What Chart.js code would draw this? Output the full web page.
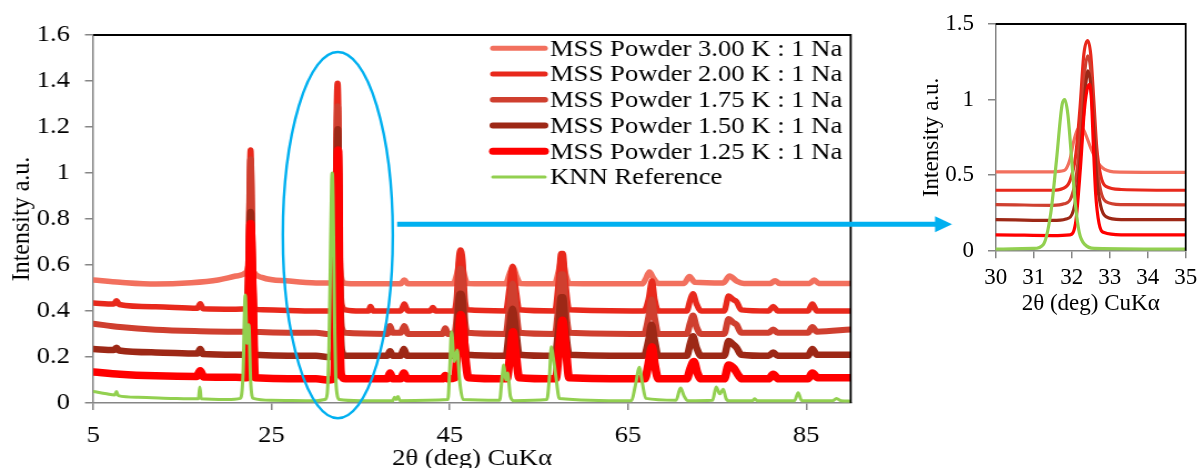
<!DOCTYPE html>
<html><head><meta charset="utf-8">
<script src="https://cdn.jsdelivr.net/npm/chart.js@4.4.1/dist/chart.umd.min.js"></script>
<style>
html,body{margin:0;padding:0;background:#fff;overflow:hidden;width:1198px;height:468px;}
#mainWrap{position:absolute;left:0;top:0;width:1079px;height:468px;transform:scaleX(1.11);transform-origin:0 0;}
#inset{position:absolute;left:900px;top:0;}
</style></head><body>
<div id="mainWrap"><canvas id="main" width="1079" height="468"></canvas></div>
<canvas id="inset" width="298" height="330"></canvas>
<script>
// ---------------- DATA ----------------
const seriesLabels = ['MSS Powder 3.00 K : 1 Na','MSS Powder 2.00 K : 1 Na','MSS Powder 1.75 K : 1 Na','MSS Powder 1.50 K : 1 Na','MSS Powder 1.25 K : 1 Na','KNN Reference'];

const s300 = [[5,0.535],[8,0.525],[12,0.517],[16,0.523],[19,0.535],[21,0.552],[22.2,0.57],[22.6,0.62],[23.0,0.57],[24,0.545],[27,0.53],[30,0.522],[31.5,0.522],[31.8,0.53],[31.95,0.6],[32.05,0.72],[32.15,0.8],[32.25,0.82],[32.35,0.78],[32.5,0.68],[32.65,0.6],[32.8,0.55],[33.1,0.522],[35,0.518],[39.5,0.518],[39.9,0.535],[40.3,0.518],[45.4,0.518],[45.8,0.56],[46.2,0.63],[46.6,0.56],[47.0,0.52],[51.3,0.518],[51.7,0.56],[52.1,0.59],[52.5,0.55],[52.9,0.52],[56.8,0.518],[57.2,0.57],[57.6,0.63],[58.0,0.56],[58.4,0.52],[66.6,0.518],[67.0,0.54],[67.4,0.57],[67.9,0.54],[68.4,0.52],[71.3,0.52],[71.9,0.55],[72.5,0.525],[75.7,0.522],[76.4,0.552],[77.2,0.53],[78,0.52],[81,0.52],[81.5,0.532],[82,0.52],[85.4,0.52],[85.9,0.535],[86.4,0.52],[90,0.52]];

const s200 = [[5,0.435],[7.3,0.43],[7.6,0.445],[7.9,0.428],[12,0.418],[16.7,0.412],[17.0,0.432],[17.3,0.41],[21,0.408],[22.2,0.41],[22.45,0.7],[22.65,1.10],[22.85,0.7],[23.1,0.41],[24,0.405],[30,0.40],[31.5,0.40],[31.75,0.41],[31.95,0.46],[32.1,0.62],[32.22,0.95],[32.32,1.3],[32.42,1.39],[32.5,1.3],[32.58,1.0],[32.66,0.68],[32.76,0.5],[32.9,0.425],[33.3,0.405],[35,0.40],[35.9,0.40],[36.1,0.42],[36.4,0.40],[39.5,0.40],[39.9,0.43],[40.3,0.40],[42.8,0.40],[43.1,0.415],[43.4,0.40],[45.5,0.40],[45.8,0.47],[46.0,0.62],[46.2,0.665],[46.45,0.62],[46.7,0.45],[47.0,0.405],[51.3,0.40],[51.7,0.50],[52.05,0.595],[52.4,0.50],[52.8,0.405],[56.8,0.40],[57.2,0.52],[57.5,0.65],[57.7,0.65],[58.0,0.52],[58.4,0.405],[66.8,0.40],[67.3,0.45],[67.7,0.53],[68.0,0.45],[68.4,0.40],[71.6,0.40],[72.0,0.45],[72.3,0.475],[72.7,0.43],[73.2,0.40],[75.8,0.40],[76.3,0.465],[76.8,0.45],[77.2,0.44],[77.7,0.405],[80.8,0.40],[81.3,0.42],[81.8,0.40],[85.2,0.40],[85.7,0.43],[86.2,0.40],[90,0.40]];

const s175 = [[5,0.345],[8,0.33],[12,0.318],[17,0.312],[21,0.31],[22.2,0.31],[22.45,0.65],[22.65,1.06],[22.85,0.65],[23.1,0.31],[30,0.305],[31.5,0.30],[31.8,0.31],[32.0,0.36],[32.15,0.55],[32.26,0.9],[32.35,1.2],[32.42,1.29],[32.5,1.2],[32.58,0.9],[32.66,0.58],[32.76,0.4],[32.9,0.325],[33.3,0.305],[38.0,0.30],[38.3,0.335],[38.6,0.305],[39.5,0.305],[39.9,0.335],[40.3,0.30],[44.2,0.30],[44.5,0.325],[44.8,0.30],[45.5,0.30],[45.8,0.38],[46.0,0.54],[46.2,0.585],[46.45,0.54],[46.7,0.36],[47.0,0.305],[51.3,0.30],[51.7,0.42],[52.05,0.52],[52.4,0.42],[52.8,0.305],[56.8,0.30],[57.2,0.42],[57.5,0.56],[57.7,0.56],[58.0,0.42],[58.4,0.305],[66.8,0.30],[67.3,0.37],[67.65,0.45],[68.0,0.37],[68.4,0.30],[71.6,0.30],[72.0,0.35],[72.3,0.38],[72.7,0.33],[73.2,0.30],[75.8,0.30],[76.3,0.365],[76.8,0.35],[77.2,0.34],[77.7,0.305],[80.8,0.305],[81.3,0.32],[81.8,0.305],[85.2,0.305],[85.7,0.33],[86.2,0.31],[90,0.32]];

const s150 = [[5,0.235],[7.3,0.23],[7.6,0.24],[7.9,0.228],[12,0.22],[16.7,0.215],[17.0,0.235],[17.3,0.213],[21,0.21],[22.2,0.21],[22.45,0.5],[22.65,0.83],[22.85,0.5],[23.1,0.21],[30,0.205],[31.5,0.20],[31.85,0.21],[32.05,0.27],[32.18,0.48],[32.29,0.82],[32.37,1.1],[32.43,1.19],[32.5,1.1],[32.58,0.8],[32.66,0.48],[32.76,0.3],[32.9,0.225],[33.3,0.205],[38.0,0.205],[38.3,0.225],[38.6,0.205],[39.5,0.205],[39.85,0.235],[40.2,0.205],[45.5,0.205],[45.8,0.28],[46.0,0.44],[46.2,0.475],[46.45,0.44],[46.7,0.26],[47.0,0.21],[51.3,0.205],[51.7,0.32],[52.05,0.41],[52.4,0.32],[52.8,0.21],[56.8,0.205],[57.2,0.32],[57.5,0.46],[57.7,0.46],[58.0,0.32],[58.4,0.21],[66.8,0.205],[67.3,0.27],[67.65,0.34],[68.0,0.27],[68.4,0.205],[71.6,0.205],[72.0,0.26],[72.3,0.29],[72.7,0.24],[73.2,0.205],[75.8,0.205],[76.3,0.27],[76.8,0.255],[77.2,0.24],[77.7,0.21],[80.8,0.205],[81.3,0.22],[81.8,0.205],[85.2,0.205],[85.7,0.235],[86.2,0.21],[90,0.21]];

const s125 = [[5,0.135],[8,0.125],[12,0.118],[16.6,0.115],[17.0,0.14],[17.4,0.113],[21,0.112],[22.2,0.11],[22.45,0.45],[22.65,0.78],[22.9,0.45],[23.15,0.11],[30,0.105],[31.5,0.10],[31.95,0.105],[32.1,0.18],[32.23,0.55],[32.33,0.92],[32.4,1.06],[32.47,1.10],[32.52,1.0],[32.57,0.7],[32.63,0.38],[32.72,0.18],[32.85,0.12],[33.3,0.105],[38.0,0.105],[38.3,0.13],[38.6,0.105],[39.5,0.105],[39.85,0.13],[40.2,0.105],[44.2,0.105],[44.5,0.12],[44.8,0.105],[45.6,0.11],[45.9,0.25],[46.25,0.385],[46.5,0.33],[46.8,0.18],[47.1,0.11],[51.4,0.105],[51.8,0.22],[52.1,0.31],[52.4,0.22],[52.8,0.11],[56.9,0.105],[57.3,0.25],[57.65,0.36],[58.0,0.25],[58.4,0.11],[66.9,0.105],[67.3,0.17],[67.7,0.245],[68.0,0.17],[68.4,0.105],[71.6,0.105],[72.0,0.15],[72.4,0.18],[72.8,0.13],[73.2,0.105],[75.8,0.105],[76.3,0.165],[76.9,0.15],[77.4,0.12],[77.8,0.105],[80.8,0.105],[81.3,0.125],[81.9,0.105],[85.2,0.105],[85.7,0.13],[86.3,0.11],[90,0.11]];

const knn = [[5,0.05],[6.5,0.04],[7.4,0.035],[7.6,0.05],[7.8,0.032],[10,0.025],[14,0.02],[16.8,0.018],[16.95,0.07],[17.1,0.018],[20,0.015],[21.5,0.02],[21.8,0.12],[22.05,0.47],[22.25,0.26],[22.45,0.34],[22.65,0.1],[22.95,0.02],[25,0.012],[30,0.01],[31.0,0.015],[31.25,0.04],[31.45,0.25],[31.6,0.6],[31.75,0.97],[31.82,1.0],[31.9,0.9],[32.0,0.6],[32.1,0.3],[32.2,0.12],[32.35,0.04],[32.6,0.015],[35,0.01],[38.6,0.01],[38.8,0.025],[39.0,0.015],[39.2,0.028],[39.4,0.01],[44.8,0.015],[45.0,0.15],[45.2,0.31],[45.5,0.18],[45.85,0.23],[46.1,0.1],[46.5,0.015],[50.6,0.012],[50.85,0.1],[51.06,0.165],[51.3,0.1],[51.5,0.13],[51.8,0.03],[52.2,0.01],[55.9,0.015],[56.2,0.12],[56.4,0.245],[56.6,0.2],[56.9,0.12],[57.3,0.02],[65.4,0.01],[65.8,0.07],[66.3,0.155],[66.6,0.09],[67.0,0.02],[70.4,0.012],[70.9,0.065],[71.3,0.03],[71.7,0.01],[74.5,0.012],[74.9,0.07],[75.3,0.04],[75.7,0.06],[76.0,0.02],[76.3,0.01],[79.0,0.01],[79.2,0.018],[79.5,0.01],[83.7,0.01],[84.1,0.045],[84.5,0.01],[88.0,0.01],[88.4,0.02],[88.9,0.01],[90,0.008]];

const mainXTicks = [5, 25, 45, 65, 85];
const mainYTicks = [0, 0.2, 0.4, 0.6, 0.8, 1, 1.2, 1.4, 1.6];
const mainYTickLabels = ['0','0.2','0.4','0.6','0.8','1','1.2','1.4','1.6'];
const insetXTicks = [30, 31, 32, 33, 34, 35];
const insetYTicks = [0, 0.5, 1, 1.5];
const insetYTickLabels = ['0','0.5','1','1.5'];
const xTitle = '2θ (deg) CuKα';
const yTitle = 'Intensity a.u.';

// ---------------- STYLE ----------------
const seriesData = [s300, s200, s175, s150, s125, knn];
const seriesColors = ['#F2705E','#E8291C','#CF3F2F','#9D2816','#FF0000','#92D050'];
const mainWidths = [5.5, 5.5, 6, 6.5, 7.5, 3];
const legendWidths = [5, 5, 5.5, 6, 7, 3];
const insetWidths = [3.2, 3.2, 3.2, 3.2, 3.2, 3.2];
const drawOrder = [5, 4, 3, 2, 1, 0];
const FONT = '"Liberation Serif", "Times New Roman", serif';
const AXIS_GREY = '#868686';
const BLUE = '#00B0F0';

Chart.defaults.font.family = FONT;
Chart.defaults.color = '#000';

function makeDatasets(widths) {
  return seriesData.map((d, i) => ({
    label: seriesLabels[i],
    data: d.map(p => ({x: p[0], y: p[1]})),
    borderColor: seriesColors[i],
    backgroundColor: seriesColors[i],
    borderWidth: widths[i],
    order: drawOrder[i],
    pointRadius: 0,
    fill: false,
    cubicInterpolationMode: 'monotone',
    borderCapStyle: 'round',
    borderJoinStyle: 'round'
  }));
}

const framePlugin = {
  id: 'frame',
  afterDatasetsDraw(chart) {
    const {ctx, chartArea: a} = chart;
    ctx.save();
    ctx.strokeStyle = '#000';
    ctx.lineWidth = 1.8;
    ctx.beginPath();
    ctx.moveTo(a.left, a.top);
    ctx.lineTo(a.right, a.top);
    ctx.lineTo(a.right, a.bottom);
    ctx.stroke();
    ctx.restore();
  }
};

const legendPlugin = {
  id: 'innerLegend',
  afterDatasetsDraw(chart) {
    const ctx = chart.ctx;
    ctx.save();
    ctx.font = '24px ' + FONT;
    ctx.textBaseline = 'middle';
    ctx.textAlign = 'left';
    chart.data.datasets.forEach((ds, i) => {
      const y = 48.3 + i * 25.75;
      ctx.strokeStyle = ds.borderColor;
      ctx.lineWidth = legendWidths[i];
      ctx.lineCap = 'round';
      ctx.beginPath();
      ctx.moveTo(444, y);
      ctx.lineTo(491, y);
      ctx.stroke();
      ctx.fillStyle = '#000';
      ctx.fillText(ds.label, 495.5, y + 1);
    });
    ctx.restore();
  }
};

const annotPlugin = {
  id: 'annot',
  afterDraw(chart) {
    const {ctx, scales: {x, y}} = chart;
    ctx.save();
    // ellipse around main peak (data units)
    const cx = x.getPixelForValue(32.44), cy = y.getPixelForValue(0.73);
    const rx = x.getPixelForValue(32.44 + 6.17) - cx;
    const ry = cy - y.getPixelForValue(0.73 + 0.796);
    ctx.strokeStyle = BLUE;
    ctx.lineWidth = 2.4;
    ctx.beginPath();
    ctx.ellipse(cx, cy, rx, ry, 0, 0, Math.PI * 2);
    ctx.stroke();
    // arrow to inset
    const ax = x.getPixelForValue(39.1), ay = y.getPixelForValue(0.777);
    const tip = 857.7, headLen = 15.3, headHalf = 8;
    ctx.lineWidth = 5;
    ctx.lineCap = 'butt';
    ctx.beginPath();
    ctx.moveTo(ax, ay);
    ctx.lineTo(tip - headLen + 1, ay);
    ctx.stroke();
    ctx.fillStyle = BLUE;
    ctx.beginPath();
    ctx.moveTo(tip - headLen, ay - headHalf);
    ctx.lineTo(tip, ay);
    ctx.lineTo(tip - headLen, ay + headHalf);
    ctx.closePath();
    ctx.fill();
    ctx.restore();
  }
};

function axisCommon(tickLen) {
  return {
    grid: {display: true, drawOnChartArea: false, drawTicks: true, tickLength: tickLen, color: AXIS_GREY, lineWidth: 1.5},
    border: {display: true, color: AXIS_GREY, width: 1.5}
  };
}

// ---------------- MAIN CHART ----------------
new Chart(document.getElementById('main'), {
  type: 'line',
  data: {datasets: makeDatasets(mainWidths)},
  options: {
    responsive: false, animation: false, devicePixelRatio: 1,
    layout: {padding: {left: 0, top: 35, right: 1079 - 766.4, bottom: 0}},
    plugins: {legend: {display: false}, tooltip: {enabled: false}},
    scales: {
      x: Object.assign(axisCommon(7), {
        type: 'linear', min: 5, max: 90,
        afterBuildTicks: s => { s.ticks = mainXTicks.map(v => ({value: v})); },
        afterFit: s => { s.height = 65; s.paddingLeft = 0; s.paddingRight = 0; },
        ticks: {font: {size: 24}, padding: 11.4, maxRotation: 0, autoSkip: false, color: '#000'},
        title: {display: true, text: xTitle, font: {size: 24}, color: '#000', padding: {top: 0, bottom: -5.5}}
      }),
      y: Object.assign(axisCommon(7.5), {
        type: 'linear', min: 0, max: 1.6,
        afterBuildTicks: s => { s.ticks = mainYTicks.map(v => ({value: v})); },
        afterFit: s => { s.width = 84.05; s.paddingTop = 0; s.paddingBottom = 0; },
        ticks: {font: {size: 24}, padding: 13.5, autoSkip: false, color: '#000',
                callback: v => mainYTickLabels[mainYTicks.indexOf(v)]},
        title: {display: true, text: yTitle, font: {size: 24}, color: '#000', padding: {top: 5.4, bottom: 0}}
      })
    }
  },
  plugins: [framePlugin, legendPlugin, annotPlugin]
});

// ---------------- INSET CHART ----------------
new Chart(document.getElementById('inset'), {
  type: 'line',
  data: {datasets: makeDatasets(insetWidths)},
  options: {
    responsive: false, animation: false, devicePixelRatio: 1,
    layout: {padding: {left: 0, top: 24, right: 298 - 285.7, bottom: 0}},
    plugins: {legend: {display: false}, tooltip: {enabled: false}},
    scales: {
      x: Object.assign(axisCommon(7.6), {
        type: 'linear', min: 30, max: 35,
        afterBuildTicks: s => { s.ticks = insetXTicks.map(v => ({value: v})); },
        afterFit: s => { s.height = 330 - 250.7; s.paddingLeft = 0; s.paddingRight = 0; },
        ticks: {font: {size: 23}, padding: 6.2, maxRotation: 0, autoSkip: false, color: '#000'},
        title: {display: true, text: xTitle, font: {size: 23}, color: '#000', padding: {top: 0, bottom: 12}}
      }),
      y: Object.assign(axisCommon(7.7), {
        type: 'linear', min: 0, max: 1.5,
        afterBuildTicks: s => { s.ticks = insetYTicks.map(v => ({value: v})); },
        afterFit: s => { s.width = 95.7; s.paddingTop = 0; s.paddingBottom = 0; },
        ticks: {font: {size: 23}, padding: 14, autoSkip: false, color: '#000',
                callback: v => insetYTickLabels[insetYTicks.indexOf(v)]},
        title: {display: true, text: yTitle, font: {size: 23}, color: '#000', padding: {top: 17.9, bottom: 0}}
      })
    }
  },
  plugins: [framePlugin]
});
</script></body></html>
